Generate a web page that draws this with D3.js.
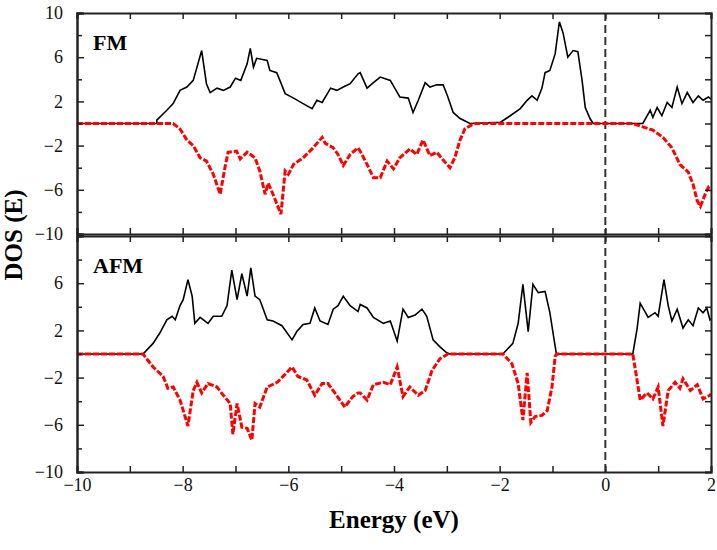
<!DOCTYPE html>
<html>
<head>
<meta charset="utf-8">
<script src="https://cdn.jsdelivr.net/npm/d3@7"></script>
<style>
  body { margin: 0; background: #fff; }
  text { font-family: "Liberation Serif", "DejaVu Serif", serif; }
</style>
</head>
<body>
<div id="chart"></div>
<script>
"use strict";

// energy (eV), DOS
var fmUp = [[-10,0],[-8.49,0],[-8.49,0.3],[-8.3,1.2],[-8.18,1.8],[-8.05,3.0],[-7.92,3.3],[-7.8,3.9],[-7.64,6.6],[-7.55,3.6],[-7.48,2.8],[-7.35,3.2],[-7.23,3.0],[-7.1,3.3],[-7.0,4.1],[-6.9,3.9],[-6.78,5.4],[-6.72,6.8],[-6.66,5.1],[-6.6,5.9],[-6.4,5.7],[-6.35,4.8],[-6.22,4.6],[-6.16,3.9],[-6.06,2.7],[-5.9,2.3],[-5.72,1.8],[-5.55,1.35],[-5.46,2.1],[-5.36,1.9],[-5.2,3.2],[-5.08,3.0],[-4.96,3.3],[-4.83,3.6],[-4.68,4.5],[-4.64,4.6],[-4.51,3.2],[-4.39,3.7],[-4.26,4.2],[-4.07,3.9],[-3.89,2.4],[-3.73,2.3],[-3.64,1.0],[-3.54,2.1],[-3.41,3.7],[-3.32,3.3],[-3.19,3.5],[-3.07,3.5],[-2.98,2.4],[-2.88,1.0],[-2.75,0.45],[-2.56,0],[-1.99,0.1],[-1.8,0.7],[-1.61,1.35],[-1.48,2.1],[-1.39,2.5],[-1.29,2.1],[-1.2,3.2],[-1.14,4.6],[-1.05,4.8],[-0.95,6.3],[-0.87,9.2],[-0.8,8.2],[-0.71,6.0],[-0.61,6.6],[-0.52,6.5],[-0.44,3.9],[-0.38,1.45],[-0.29,0.45],[-0.23,0],[0.71,0],[0.79,0.7],[0.85,1.2],[0.9,0.55],[0.98,1.45],[1.07,0.7],[1.17,1.9],[1.26,1.45],[1.36,3.3],[1.45,1.8],[1.55,2.8],[1.66,1.9],[1.76,2.5],[1.85,2.1],[1.95,2.4],[2.0,2.2]];

var fmDown = [[-10,0],[-8.18,0],[-8.05,-0.5],[-7.92,-1.5],[-7.8,-2.0],[-7.67,-3.1],[-7.55,-3.4],[-7.42,-4.6],[-7.29,-6.4],[-7.2,-4.0],[-7.14,-2.6],[-6.98,-2.5],[-6.91,-3.2],[-6.78,-2.6],[-6.63,-3.1],[-6.54,-4.3],[-6.44,-6.4],[-6.38,-5.4],[-6.29,-6.4],[-6.14,-8.2],[-6.06,-4.3],[-6.0,-4.6],[-5.9,-3.7],[-5.72,-3.1],[-5.55,-2.3],[-5.36,-1.25],[-5.3,-1.8],[-5.15,-2.2],[-5.06,-2.8],[-4.96,-3.8],[-4.83,-2.8],[-4.68,-2.2],[-4.64,-2.5],[-4.51,-3.7],[-4.39,-4.9],[-4.26,-4.9],[-4.13,-3.4],[-4.01,-4.1],[-3.89,-3.1],[-3.7,-2.3],[-3.57,-2.8],[-3.45,-1.5],[-3.32,-2.9],[-3.19,-2.6],[-3.09,-3.2],[-2.94,-4.0],[-2.85,-3.1],[-2.75,-1.5],[-2.66,-0.5],[-2.52,-0.1],[-2.45,0],[0.52,0],[0.71,-0.3],[0.9,-0.6],[1.09,-1.25],[1.26,-2.2],[1.41,-3.7],[1.57,-4.4],[1.66,-5.5],[1.74,-7.0],[1.8,-7.5],[1.89,-6.4],[1.95,-5.8],[2.0,-6.1]];

var afmUp = [[-10,0],[-8.75,0],[-8.56,0.9],[-8.43,1.8],[-8.3,2.9],[-8.2,3.2],[-8.14,2.9],[-8.05,4.1],[-7.99,4.6],[-7.9,6.3],[-7.82,4.9],[-7.77,2.6],[-7.67,3.1],[-7.52,2.6],[-7.42,3.2],[-7.26,3.2],[-7.16,4.1],[-7.07,7.1],[-6.97,4.6],[-6.88,6.8],[-6.78,4.9],[-6.71,7.3],[-6.63,4.9],[-6.54,4.6],[-6.4,2.9],[-6.29,2.8],[-6.12,2.4],[-5.93,1.2],[-5.84,1.9],[-5.72,2.5],[-5.59,2.6],[-5.5,3.9],[-5.4,2.8],[-5.25,2.5],[-5.15,3.8],[-5.06,4.1],[-4.96,4.9],[-4.83,4.1],[-4.68,3.6],[-4.64,4.2],[-4.51,3.9],[-4.39,3.1],[-4.2,2.6],[-4.07,2.8],[-3.94,1.1],[-3.83,3.8],[-3.73,3.1],[-3.6,3.3],[-3.47,3.8],[-3.38,3.2],[-3.26,1.2],[-3.13,0.6],[-3.0,0.1],[-2.95,0],[-1.94,0],[-1.75,0.9],[-1.65,2.6],[-1.56,5.9],[-1.46,1.9],[-1.37,5.9],[-1.27,5.2],[-1.14,5.3],[-1.05,3.5],[-0.99,1.8],[-0.93,0.1],[-0.9,0],[0.52,0],[0.6,2.1],[0.66,4.3],[0.75,3.6],[0.81,3.1],[0.94,3.5],[1.0,3.2],[1.11,6.3],[1.19,4.1],[1.26,2.8],[1.36,3.8],[1.47,2.2],[1.57,2.9],[1.66,2.4],[1.76,3.9],[1.85,3.5],[1.92,3.9],[1.98,2.9],[2.0,3.0]];

var afmDown = [[-10,0],[-8.75,0],[-8.56,-1.1],[-8.37,-1.9],[-8.28,-2.9],[-8.18,-2.8],[-8.05,-3.9],[-7.9,-6.1],[-7.8,-3.1],[-7.73,-2.4],[-7.64,-3.3],[-7.52,-2.5],[-7.35,-2.8],[-7.23,-3.5],[-7.1,-4.2],[-7.05,-6.8],[-6.97,-4.2],[-6.88,-6.2],[-6.78,-6.3],[-6.69,-7.3],[-6.63,-4.2],[-6.54,-4.5],[-6.4,-2.8],[-6.21,-2.4],[-6.1,-1.9],[-5.93,-1.1],[-5.82,-1.9],[-5.65,-2.2],[-5.5,-3.5],[-5.36,-2.5],[-5.25,-2.5],[-5.12,-3.3],[-4.93,-4.5],[-4.78,-3.6],[-4.68,-3.3],[-4.64,-3.3],[-4.51,-3.9],[-4.39,-2.6],[-4.2,-2.4],[-4.07,-2.6],[-3.94,-1.1],[-3.83,-3.6],[-3.7,-2.8],[-3.54,-3.5],[-3.41,-3.1],[-3.28,-1.4],[-3.13,-0.4],[-2.98,0],[-1.94,0],[-1.77,-0.8],[-1.65,-2.5],[-1.56,-5.6],[-1.48,-1.6],[-1.41,-5.8],[-1.33,-5.3],[-1.2,-5.2],[-1.1,-4.8],[-1.01,-2.8],[-0.95,-0.2],[-0.92,0],[0.52,0],[0.6,-2.2],[0.66,-3.9],[0.79,-3.3],[0.9,-3.8],[1.0,-2.8],[1.09,-6.1],[1.19,-3.1],[1.32,-2.4],[1.41,-2.9],[1.47,-2.1],[1.61,-3.1],[1.74,-2.6],[1.85,-3.8],[1.98,-3.5],[2.0,-3.4]];

var xTicks = [-10, -8, -6, -4, -2, 0, 2];
var xMinor = [-9, -7, -5, -3, -1, 1];
var yTicksTop = [10, 6, 2, -2, -6, -10];
var yTicksBottom = [6, 2, -2, -6, -10];
var yMinor = [8, 4, 0, -4, -8];
var fermi = 0;

var panels = [
	{name: "FM",  up: fmUp,  down: fmDown,  top: 13,  bottom: 234, labels: yTicksTop},
	{name: "AFM", up: afmUp, down: afmDown, top: 236, bottom: 472, labels: yTicksBottom}
];

var serif = "'Liberation Serif', 'DejaVu Serif', serif";

var svg = d3.select("#chart").append("svg")
	.attr("width", 717).attr("height", 550);

var left = 77, right = 711;
var x = d3.scaleLinear().domain([-10, 2]).range([left, right]);

function fmt(d) { return d < 0 ? "\u2212" + Math.abs(d) : "" + d; }

panels.forEach(function(p, i) {
	var y = d3.scaleLinear().domain([-10, 10]).range([p.bottom, p.top]);
	var g = svg.append("g");

	var line = d3.line()
		.x(function(d) { return x(d[0]); })
		.y(function(d) { return y(d[1]); });

	// fermi level
	g.append("line")
		.attr("x1", x(fermi)).attr("x2", x(fermi))
		.attr("y1", p.top).attr("y2", p.bottom)
		.attr("stroke", "#333").attr("stroke-width", 2)
		.attr("stroke-dasharray", "8,4");

	g.append("path")
		.attr("d", line(p.up))
		.attr("fill", "none").attr("stroke", "#000")
		.attr("stroke-width", 1.6);

	g.append("path")
		.attr("d", line(p.down))
		.attr("fill", "none").attr("stroke", "#f00")
		.attr("stroke-width", 3)
		.attr("stroke-dasharray", "6,2");

	// axes, ticks pointing inward
	g.append("g").attr("transform", "translate(" + left + ",0)")
		.call(d3.axisLeft(y).tickValues(p.labels).tickSize(-7).tickPadding(14).tickFormat(fmt));
	g.append("g").attr("transform", "translate(" + left + ",0)")
		.call(d3.axisLeft(y).tickValues(yMinor).tickSize(-5).tickFormat(""));
	g.append("g").attr("transform", "translate(" + right + ",0)")
		.call(d3.axisRight(y).tickValues(p.labels.concat(yMinor)).tickSize(-6).tickFormat(""));

	g.append("g").attr("transform", "translate(0," + p.top + ")")
		.call(d3.axisTop(x).tickValues(xTicks.concat(xMinor)).tickSize(-6).tickFormat(""));
	var xb = g.append("g").attr("transform", "translate(0," + p.bottom + ")")
		.call(d3.axisBottom(x).tickValues(xTicks.concat(xMinor)).tickSize(-6)
			.tickFormat(i == 1 ? function(d) { return xTicks.indexOf(d) >= 0 ? fmt(d) : ""; } : ""));

	g.selectAll("g").attr("font-family", serif).attr("font-size", 18);
	g.selectAll(".domain").attr("stroke", "#222").attr("stroke-width", 2);
	g.selectAll(".tick line").attr("stroke", "#222").attr("stroke-width", 1.5);
	g.selectAll(".tick text").attr("fill", "#111");
	xb.selectAll(".tick text").attr("dy", "0.9em");

	g.append("text")
		.attr("x", 93).attr("y", p.top + 37)
		.attr("font-family", serif)
		.style("font-size", "22px").style("font-weight", "bold")
		.text(p.name);
});

svg.append("text")
	.attr("x", 394).attr("y", 528)
	.attr("text-anchor", "middle")
	.attr("font-family", serif)
	.style("font-size", "25px").style("font-weight", "bold")
	.text("Energy (eV)");

svg.append("text")
	.attr("transform", "translate(22,235) rotate(-90)")
	.attr("text-anchor", "middle")
	.attr("font-family", serif)
	.style("font-size", "25px").style("font-weight", "bold")
	.text("DOS (E)");
</script>
</body>
</html>
